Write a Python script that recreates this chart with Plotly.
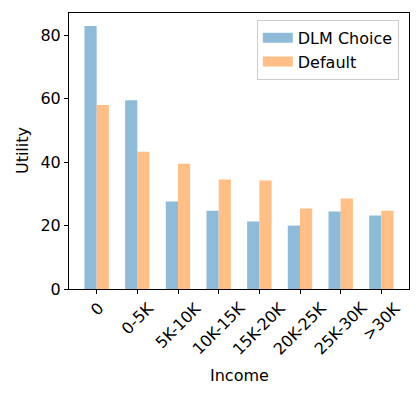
import plotly.graph_objects as go

# income brackets and utility values
income = ['0', '0-5K', '5K-10K', '10K-15K', '15K-20K', '20K-25K', '25K-30K', '>30K']
dlm_choice = [82.9, 59.5, 27.6, 24.7, 21.3, 20.0, 24.4, 23.2]
default = [58.0, 43.3, 39.5, 34.5, 34.2, 25.4, 28.5, 24.7]

xpos = list(range(len(income)))
blue = '#8fbbd9'    # C0 at alpha 0.5 over white
orange = '#ffbf86'  # C1 at alpha 0.5 over white

fig = go.Figure()
# blue bars sit left of the tick, orange right of it
fig.add_trace(go.Bar(x=xpos, y=dlm_choice, name='DLM Choice', showlegend=False,
                     width=0.3, offset=-0.3,
                     marker=dict(color=blue, line=dict(width=0))))
fig.add_trace(go.Bar(x=xpos, y=default, name='Default', showlegend=False,
                     width=0.3, offset=0,
                     marker=dict(color=orange, line=dict(width=0))))

# legend proxies: thick line gives matplotlib's wide rectangular patch
for name, col in [('DLM Choice', blue), ('Default', orange)]:
    fig.add_trace(go.Scatter(x=[None], y=[None], mode='lines', name=name,
                             line=dict(color=col, width=12)))

fig.update_layout(width=419, height=398,
                  margin=dict(l=69, r=10, t=13, b=109),
                  plot_bgcolor='white', paper_bgcolor='white',
                  font=dict(family='DejaVu Sans', size=16, color='black'),
                  legend=dict(x=0.97, y=0.975, xanchor='right', yanchor='top',
                              bgcolor='rgba(255,255,255,0.8)', bordercolor='#cccccc',
                              borderwidth=1, itemwidth=30,
                              font=dict(family='DejaVu Sans', size=16)))

fig.update_xaxes(range=[-0.68, 7.68], tickvals=xpos, showticklabels=False,
                 ticks='outside', ticklen=4, tickcolor='black',
                 showline=True, linecolor='black', linewidth=1, mirror=True,
                 showgrid=False, zeroline=False, automargin=False)
fig.update_yaxes(range=[0, 87.0], tickvals=[0, 20, 40, 60, 80],
                 tickfont=dict(family='DejaVu Sans', size=16),
                 ticks='outside', ticklen=4, tickcolor='black',
                 showline=True, linecolor='black', linewidth=1, mirror=True,
                 showgrid=False, zeroline=False, automargin=False)

# rotated tick labels, centred under each tick like matplotlib's rotation=45
for xv, lab in zip(xpos, income):
    fig.add_annotation(x=xv, y=0, xref='x', yref='paper', text=lab,
                       textangle=-45, xanchor='center', yanchor='top',
                       yshift=-7, showarrow=False,
                       font=dict(family='DejaVu Sans', size=16))

fig.add_annotation(x=0.5, y=-0.315, xref='paper', yref='paper', text='Income',
                   xanchor='center', yanchor='middle', showarrow=False,
                   font=dict(family='DejaVu Sans', size=16))
fig.add_annotation(x=-0.138, y=0.5, xref='paper', yref='paper', text='Utility',
                   textangle=-90, xanchor='center', yanchor='middle', showarrow=False,
                   font=dict(family='DejaVu Sans', size=16))

# drop the default body margin so the figure sits at the page origin
fig.write_html("out.html", config={'displayModeBar': False},
               post_script="document.body.style.margin='0';")
